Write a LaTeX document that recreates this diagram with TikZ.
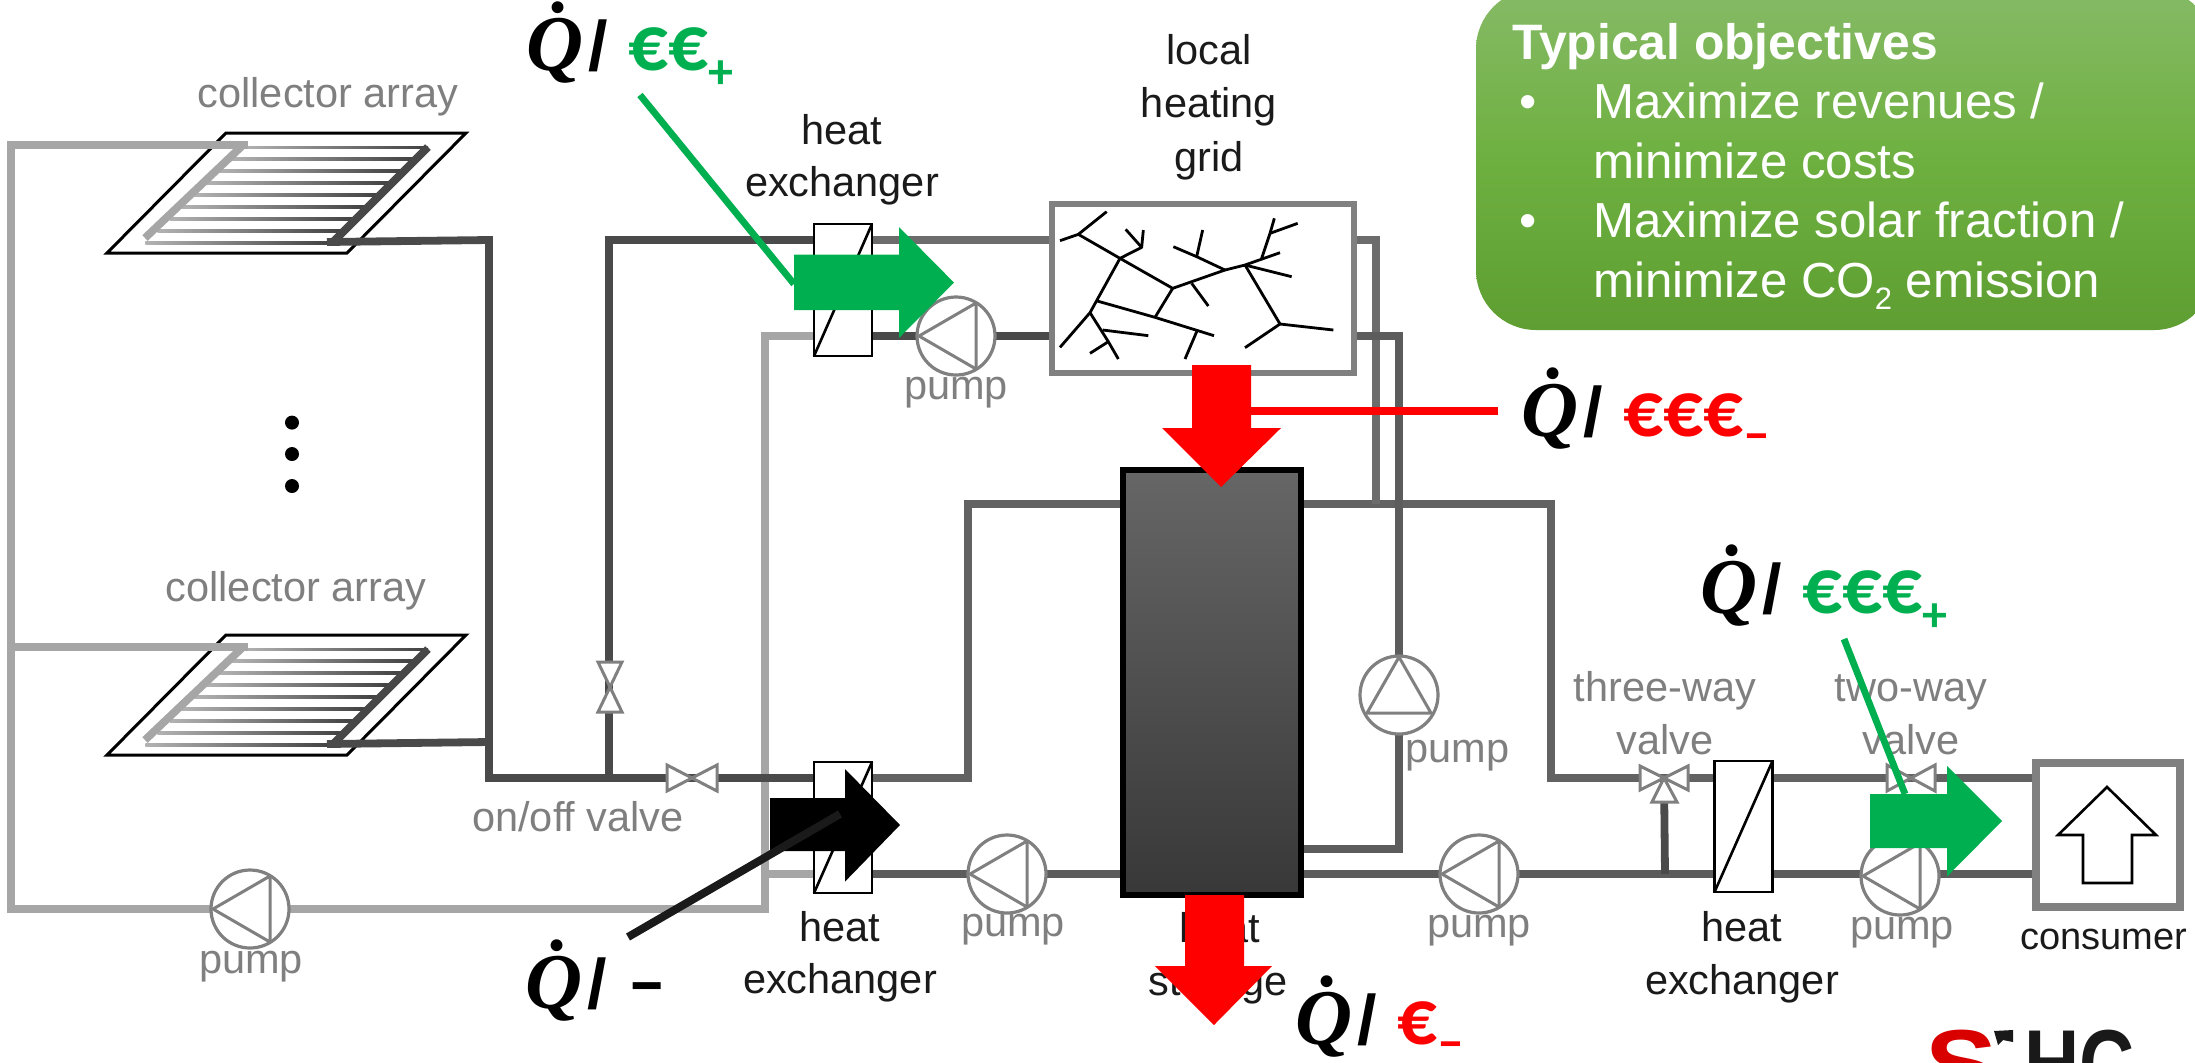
\documentclass[tikz,border=0pt]{standalone}
\usepackage{fontspec}
\setmainfont{Liberation Sans}
\newfontfamily\calib{Carlito}
\newfontfamily\qfam{Liberation Serif}
\usetikzlibrary{calc}
\pgfdeclarelayer{back}
\pgfdeclarelayer{pipes}
\pgfsetlayers{back,pipes,main}
\definecolor{pipeD}{HTML}{4A4A4A}
\definecolor{pipeM}{HTML}{626262}
\definecolor{pipeN}{HTML}{6C6C6C}
\definecolor{pipeL}{HTML}{A6A6A6}
\definecolor{symG}{HTML}{808080}
\definecolor{txtG}{HTML}{7F7F7F}
\definecolor{txtK}{HTML}{1A1A1A}
\definecolor{gr}{HTML}{00B050}
\definecolor{rd}{HTML}{FF0000}
\definecolor{lk}{HTML}{1A1A1A}
\definecolor{objTop}{HTML}{86BA66}
\definecolor{objMid}{HTML}{6EB040}
\definecolor{objBot}{HTML}{5E9E32}
\newcommand\Qsym{{\qfam\bfseries\itshape Q̇}}
\newcommand\qlabel[3]{\rlap{\Qsym}\hspace{31pt}\rlap{\normalfont\bfseries\fontsize{35}{40}\selectfont /}\hspace{20pt}{\color{#1}#2#3}}
\newcommand\subplus{\raisebox{-9pt}{\fontsize{25}{25}\selectfont +}}
\newcommand\subminus{\raisebox{-7.5pt}{\fontsize{27}{27}\selectfont –}}
\newcommand\pumpL[3]{\node[pumpc] (#1) at (#2,#3) {};
  \draw[pumpl] (#1.center) ++(-37,0) -- ++(57,-33) -- ++(0,66) -- cycle;}
\newcommand\valveH[5]{\begin{scope}[shift={(#2,#3)}]
  \coordinate (#1) at (0,0);
  \draw[valvel] (-#4,-#5) -- (#4,#5) -- (#4,-#5) -- (-#4,#5) -- cycle;
  \end{scope}}
\newcommand\collector[2]{%
  \begin{scope}[shift={(0,#2)}]
  \coordinate (#1in) at (243,145);
  \coordinate (#1bl) at (145,238);
  \coordinate (#1tr) at (428,147);
  \coordinate (#1out) at (327,242);
  \begin{pgfonlayer}{back}
  \draw[line width=1.5pt,black,line join=miter] (226,133) -- (466,133) -- (347,253) -- (107,253) -- cycle;
  \foreach \t in {0,...,8}{
    \pgfmathsetmacro\ya{146+\t*11.9}
    \pgfmathsetmacro\yb{\ya+2.8}
    \pgfmathsetmacro\xl{243-\t*12.2}
    \pgfmathsetmacro\xr{428-\t*11.9}
    \shade[left color=black!30,right color=black!75] (\xl,\ya) rectangle (\xr,\yb);
  }
  \end{pgfonlayer}
  \begin{pgfonlayer}{pipes}
  \draw[pipe,pipeL,line join=bevel] (#1in) -- (#1bl);
  \draw[pipe,black!72,line join=bevel] (#1tr) -- (333,242);
  \end{pgfonlayer}
  \end{scope}}
\begin{document}
\begin{tikzpicture}[x=0.5pt,y=-0.5pt,
  pipe/.style={line width=3.9pt,line join=miter},
  pumpc/.style={circle,draw=symG,line width=1.6pt,fill=white,minimum size=39pt,inner sep=0pt,outer sep=0pt},
  pumpl/.style={draw=symG,line width=1.5pt,line join=round},
  valvel/.style={draw=symG,fill=white,line width=1.5pt,line join=miter},
  hxbox/.style={rectangle,draw=black,line width=1.3pt,fill=white,minimum width=29pt,inner sep=0pt,outer sep=0pt},
  sym/.style={rectangle,draw=symG,fill=white,inner sep=0pt,outer sep=0pt},
  gl/.style={font=\fontsize{20.75}{24}\selectfont,text=txtG,inner sep=0pt,anchor=base},
  kl/.style={font=\fontsize{20.75}{24}\selectfont,text=txtK,inner sep=0pt,anchor=base},
  ql/.style={font=\calib\bfseries\fontsize{39.5}{44}\selectfont,text=black,inner sep=0pt,anchor=base west},
  obj/.style={font=\fontsize{24.6}{28}\selectfont,text=white,inner sep=0pt,anchor=base west},
  tree/.style={line width=1.4pt,black,line join=round}]
\path[use as bounding box,clip] (0,0) rectangle (2195,1062);
\begin{pgfonlayer}{back}
\fill[white] (0,0) rectangle (2195,1062);
\end{pgfonlayer}

% collectors
\collector{ca}{0}
\collector{cb}{502}

% named corners
\coordinate (cA) at (11,145);
\coordinate (cB) at (11,909);
\coordinate (cC) at (765,909);
\coordinate (cD) at (765,336);
\coordinate (cE) at (11,647);
\coordinate (cF) at (765,874);
\coordinate (dA) at (489,240);
\coordinate (dB) at (489,778);
\coordinate (dC) at (489,742);
\coordinate (eA) at (609,240);
\coordinate (eB) at (609,778);
\coordinate (gA) at (968,778);
\coordinate (gB) at (968,504);
\coordinate (hA) at (1551,504);
\coordinate (hB) at (1551,778);
\coordinate (iA) at (1376,240);
\coordinate (iB) at (1376,504);
\coordinate (jA) at (1399,336);
\coordinate (jB) at (1399,849);
\coordinate (kA) at (1665,874);

% equipment
\node[hxbox,minimum height=66pt] (hxa) at (843,290) {};
\draw[line width=1.3pt,black] (hxa.north east) -- (hxa.south west);
\node[hxbox,minimum height=65.5pt] (hxb) at (843,827.5) {};
\draw[line width=1.3pt,black] (hxb.north east) -- (hxb.south west);
\node[hxbox,minimum height=65.5pt] (hxc) at (1743.5,826.5) {};
\draw[line width=1.3pt,black] (hxc.north east) -- (hxc.south west);

\node[sym,line width=3pt,minimum width=151pt,minimum height=84.5pt] (grid) at (1203,288.5) {};
\begin{scope}[shift={(1040,190)},x=0.16667pt,y=-0.16667pt]
\draw[tree] (60,152) -- (115,133) -- (200,65);
\draw[tree] (115,133) -- (240,205) -- (398,295) -- (555,240) -- (615,225) -- (720,188);
\draw[tree] (240,205) -- (305,172) -- (310,120);
\draw[tree] (305,172) -- (257,118);
\draw[tree] (240,205) -- (150,368) -- (60,472);
\draw[tree] (168,332) -- (345,382) -- (522,437);
\draw[tree] (345,382) -- (398,295);
\draw[tree] (150,368) -- (205,455) -- (235,507);
\draw[tree] (188,420) -- (325,437);
\draw[tree] (205,455) -- (150,490);
\draw[tree] (470,425) -- (435,507);
\draw[tree] (455,280) -- (505,348);
\draw[tree] (555,240) -- (470,200) -- (400,170);
\draw[tree] (470,200) -- (488,120);
\draw[tree] (665,205) -- (690,130) -- (703,85);
\draw[tree] (690,130) -- (773,100);
\draw[tree] (615,225) -- (755,260);
\draw[tree] (615,225) -- (720,402) -- (880,420);
\draw[tree] (720,402) -- (615,473);
\end{scope}

\node[rectangle,draw=black,line width=3pt,top color=black!60,bottom color=black!78,minimum width=89pt,minimum height=212.5pt,inner sep=0pt,outer sep=0pt] (storage) at (1212,682) {};

\node[sym,line width=4pt,minimum width=72pt,minimum height=72pt] (consumer) at (2108,835) {};
\draw[line width=1.3pt,black,fill=white,line join=miter] (2107,787) -- (2156,835) -- (2132,835) -- (2132,883) -- (2083,883) -- (2083,835) -- (2058,835) -- cycle;

\pumpL{pa}{956}{336}
\pumpL{pb}{250}{909}
\pumpL{pc}{1007}{874}
\pumpL{pd}{1479}{874}
\pumpL{pe}{1900}{876}
\node[pumpc] (pu) at (1399,695) {};
\draw[pumpl] (pu.center) ++(0,-38) -- ++(32,56) -- ++(-64,0) -- cycle;

% valves
\begin{scope}[shift={(610,687)}]
\coordinate (va) at (0,0);
\draw[valvel] (-12,-25) -- (12,25) -- (-12,25) -- (12,-25) -- cycle;
\end{scope}
\valveH{vb}{692}{778}{25}{13}
\valveH{vc}{1664}{778}{24}{12}
\draw[valvel] (vc) -- (1677,802) -- (1652,802) -- cycle;
\valveH{vd}{1911}{778}{24}{13}

% pipes
\begin{pgfonlayer}{pipes}
\draw[pipe,pipeL] ($(cain)+(5,0)$) -- (cA) -- (cB) -- (cC) -- (cD) -- (cD -| hxa.west);
\draw[pipe,pipeL] ($(cbin)+(5,0)$) -- (cE);
\draw[pipe,pipeL] (cF) -- (hxb.center |- cF);
\draw[pipe,pipeD] (caout) -- (dA) -- (dB) -- (eB) -- (hxb.center |- eB);
\draw[pipe,pipeD] (cbout) -- (dC);
\draw[pipe,pipeD] (eB) -- (eA) -- (hxa.center |- eA);
\draw[pipe,pipeN] (hxa.center |- eA) -- (eA -| grid.center);
\draw[pipe,pipeD] (cD -| hxa.center) -- (cD -| grid.center);
\draw[pipe,pipeM] (hxb.center |- eB) -- (gA) -- (gB) -- (hA) -- (hB) -- (hB -| consumer.center);
\draw[pipe,pipeN] (eA -| grid.center) -- (iA) -- (iB);
\draw[pipe,pipeD!90!white] (cD -| grid.center) -- (jA) -- (jB) -- (jB -| storage.center);
\draw[pipe,pipeD!90!white] (cF -| hxb.center) -- (kA -| consumer.center);
\draw[pipe,pipeD] (kA) -- (vc);
\end{pgfonlayer}

% grey labels
\node[gl] (tca) at (328,107.5) {collector array};
\node[gl] (tcb) at (296,601.7) {collector array};
\node[gl] (tpa) at (956,399) {pump};
\node[gl] (tpb) at (251,973) {pump};
\node[gl] (tpc) at (1013,936) {pump};
\node[gl] (tpd) at (1479,937) {pump};
\node[gl] (tpe) at (1902,939) {pump};
\node[gl,anchor=base west] (tpu) at (1405,762) {pump};
\node[gl] (tv) at (578,831.5) {on/off valve};
\node[gl] (t3a) at (1665,701) {three-way};
\node[gl] (t3b) at (1665,754) {valve};
\node[gl] (t2a) at (1911,701) {two-way};
\node[gl] (t2b) at (1911,754) {valve};
% black labels
\node[kl] (tha) at (842,144) {heat};
\node[kl] (txa) at (842,196) {exchanger};
\node[kl] (thb) at (840,941) {heat};
\node[kl] (txb) at (840,993) {exchanger};
\node[kl] (thc) at (1742,941) {heat};
\node[kl] (txc) at (1742,994) {exchanger};
\node[kl] (tg1) at (1209,64) {local};
\node[kl] (tg2) at (1209,117) {heating};
\node[kl] (tg3) at (1209,171) {grid};
\node[kl] (ts1) at (1220,942) {heat};
\node[kl] (ts2) at (1218,995) {storage};
\node[kl,font=\fontsize{19}{22}\selectfont] (tcons) at (2104,949) {consumer};

% ellipsis dots
\fill[black] (292,422.6) circle[radius=7];
\fill[black] (292,454) circle[radius=7];
\fill[black] (292,486) circle[radius=7];

% objectives box
\node[rectangle,rounded corners=30pt,top color=objTop,bottom color=objBot,middle color=objMid,minimum width=369pt,minimum height=170.5pt,inner sep=0pt] (objbox) at (1845,159.5) {};
\node[obj,font=\bfseries\fontsize{24.9}{28}\selectfont] (o0) at (1512,59) {Typical objectives};
\node[obj] (b1) at (1519,118) {•};
\node[obj] (o1) at (1593,118) {Maximize revenues /};
\node[obj] (o2) at (1593,178.5) {minimize costs};
\node[obj] (b2) at (1519,237.7) {•};
\node[obj] (o3) at (1593,237.7) {Maximize solar fraction /};
\node[obj] (o4) at (1593,297.5) {minimize CO\raisebox{-5.75pt}{\fontsize{15.5}{16}\selectfont 2} emission};

% block arrows
\fill[gr] (794,254.6) -- (899,254.6) -- (899,227) -- (954,282.6) -- (899,338) -- (899,310) -- (794,310) -- cycle;
\fill[black] (770,798) -- (845,798) -- (845,769) -- (900,825) -- (845,881.6) -- (845,851) -- (770,851) -- cycle;
\fill[rd] (1192,365) -- (1251,365) -- (1251,428) -- (1281,428) -- (1221,487) -- (1162,428) -- (1192,428) -- cycle;
\fill[rd] (1185,895) -- (1244,895) -- (1244,966) -- (1272,966) -- (1214,1025) -- (1155,966) -- (1185,966) -- cycle;
\fill[gr] (1870,794) -- (1947,794) -- (1947,766) -- (2002,821) -- (1947,876.5) -- (1947,848) -- (1870,848) -- cycle;

% Q labels
\node[ql] (qa) at (526,70) {\qlabel{gr}{€€}{\subplus}};
\node[ql] (qb) at (525,1008) {\qlabel{black}{–}{}};
\node[ql] (qc) at (1521,436) {\qlabel{rd}{€€€}{\subminus}};
\node[ql] (qd) at (1700,613) {\qlabel{gr}{€€€}{\subplus}};
\node[ql] (qe) at (1295,1044.5) {\qlabel{rd}{€}{\subminus}};

% leader lines
\coordinate (la) at (640,95);  \coordinate (lae) at (794,284);
\coordinate (lb) at (628,937); \coordinate (lbe) at (840,814);
\coordinate (lc) at (1498,411);\coordinate (lce) at (1251,411);
\coordinate (ld) at (1844,639);\coordinate (lde) at (1905,794);
\draw[gr,line width=3.4pt] (la) -- (lae);
\draw[lk,line width=4pt] (lb) -- (lbe);
\draw[rd,line width=4pt] (lc) -- (lce);
\draw[gr,line width=3.4pt] (ld) -- (lde);

% logo
\node[font=\bfseries\fontsize{49}{50}\selectfont,text=red!85!black,inner sep=0pt,anchor=base west,xscale=1.1] (logoS) at (1925,1098) {S};
\fill[black!90] (1994,1031) -- (2013,1030) -- (2013,1042) -- (2003,1040) -- (1998,1045) -- cycle;
\node[font=\bfseries\fontsize{49}{50}\selectfont,text=black!90,inner sep=0pt,anchor=base west,xscale=0.78] (logoH) at (2024,1098) {HC};
\end{tikzpicture}
\end{document}
